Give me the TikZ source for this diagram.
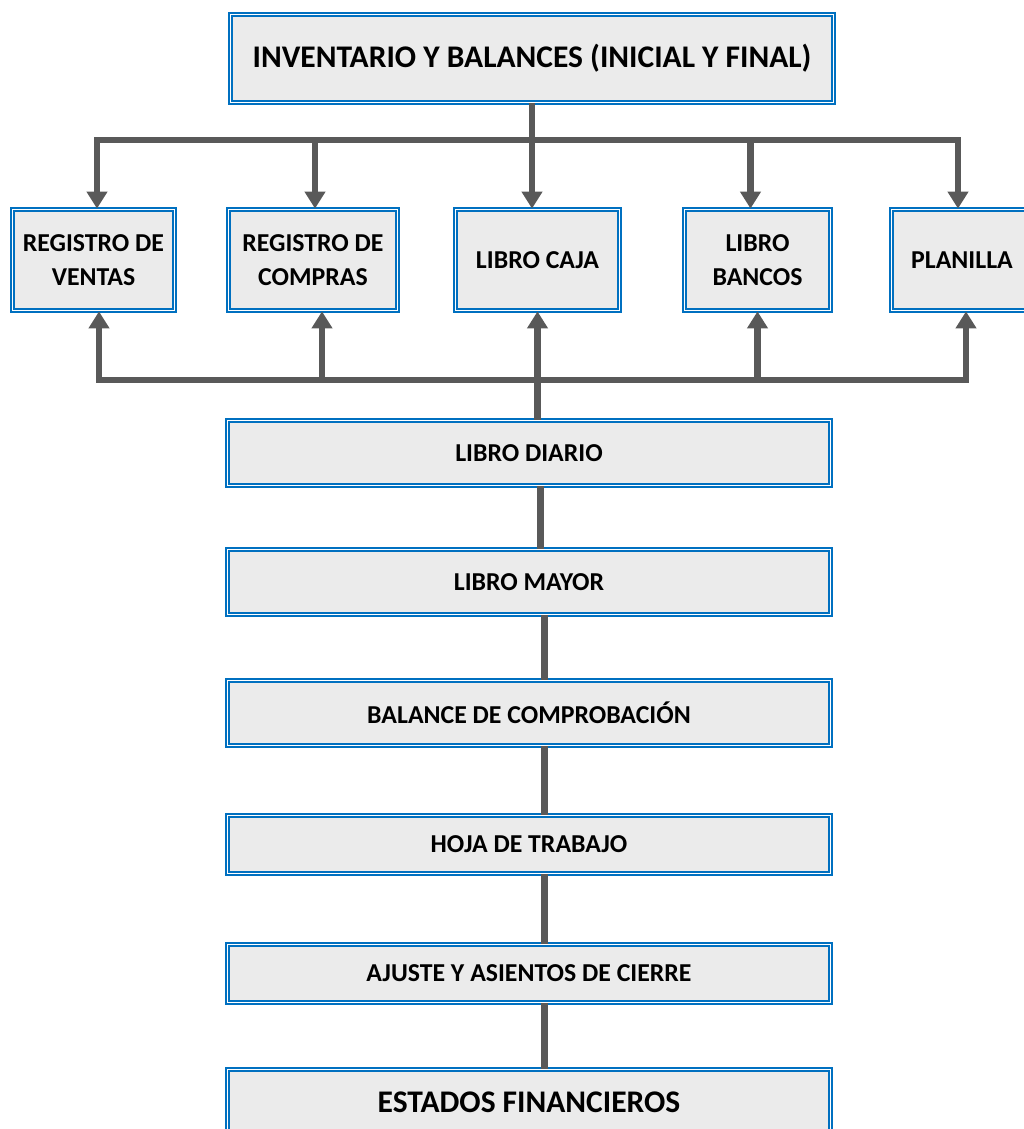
\documentclass[tikz,border=0pt]{standalone}
\usepackage{fontspec}
\setmainfont{Carlito}
\usetikzlibrary{arrows.meta}
\definecolor{boxblue}{RGB}{0,112,192}
\definecolor{boxfill}{RGB}{235,235,235}
\definecolor{linkgray}{RGB}{89,89,89}
\begin{document}
\begin{tikzpicture}[x=1pt, y=-1pt,
    book/.style={rectangle, draw=boxblue, fill=boxfill, line width=1.8pt, double=white, double distance=1.3pt, text centered, align=center, inner sep=0pt, font=\bfseries\fontsize{25.8}{34}\selectfont},
    stage/.style={book, minimum width=603, minimum height=65},
    bigstage/.style={book, font=\bfseries\fontsize{31.5}{36}\selectfont},
    arrow/.style={-{Triangle[length=17pt, width=20pt]}, draw=linkgray, line width=6.5pt},
    link/.style={draw=linkgray, line width=7pt}
]
\useasboundingbox (0,0) rectangle (1023,1129);

% Top box
\node[bigstage, minimum width=603, minimum height=88] (inv) at (532, 58.5) {INVENTARIO Y BALANCES (INICIAL Y FINAL)};

% Auxiliary books
\node[book, minimum width=162, minimum height=101] (ventas) at (93.5, 260) {REGISTRO DE\\VENTAS};
\node[book, minimum width=169, minimum height=101] (compras) at (313, 260) {REGISTRO DE\\COMPRAS};
\node[book, minimum width=164, minimum height=101] (caja) at (537.5, 260) {LIBRO CAJA};
\node[book, minimum width=146, minimum height=101] (bancos) at (757.5, 260) {LIBRO\\BANCOS};
\node[book, minimum width=141, minimum height=101] (planilla) at (962, 260) {PLANILLA};

% Main chain
\node[stage] (diario) at (529, 453) {LIBRO DIARIO};
\node[stage] (mayor) at (529, 582) {LIBRO MAYOR};
\node[stage] (balance) at (529, 713) {BALANCE DE COMPROBACIÓN};
\node[stage, minimum height=58] (hoja) at (529, 844.5) {HOJA DE TRABAJO};
\node[stage, minimum height=58] (ajuste) at (529, 973.5) {AJUSTE Y ASIENTOS DE CIERRE};
\node[bigstage, minimum width=603, minimum height=65] (estados) at (529, 1102) {ESTADOS FINANCIEROS};

% Upper bus
\coordinate (tb) at (inv.south |- 0,140);
\draw[arrow] (inv.south) -- (inv.south |- caja.north);
\draw[arrow] (tb) -| ([xshift=3.5]ventas.north);
\draw[arrow] (tb) -| ([xshift=-4]planilla.north);
\draw[arrow] ([xshift=2]compras.north |- tb) -- ([xshift=2]compras.north);
\draw[arrow] ([xshift=-7]bancos.north |- tb) -- ([xshift=-7]bancos.north);

% Lower bus
\coordinate (bb) at (caja.south |- 0,380);
\draw[arrow] (diario.north -| caja.south) -- (caja.south);
\draw[arrow] (bb) -| ([xshift=5.5]ventas.south);
\draw[arrow] (bb) -| ([xshift=4]planilla.south);
\draw[arrow] ([xshift=9]compras.south |- bb) -- ([xshift=9]compras.south);
\draw[arrow] (bancos.south |- bb) -- (bancos.south);

% Chain links
\draw[link] ([xshift=11]diario.south) -- ([xshift=11]mayor.north);
\draw[link] ([xshift=15]mayor.south) -- ([xshift=15]balance.north);
\draw[link] ([xshift=15]balance.south) -- ([xshift=15]hoja.north);
\draw[link] ([xshift=15]hoja.south) -- ([xshift=15]ajuste.north);
\draw[link] ([xshift=15]ajuste.south) -- ([xshift=15]estados.north);

\end{tikzpicture}
\end{document}
